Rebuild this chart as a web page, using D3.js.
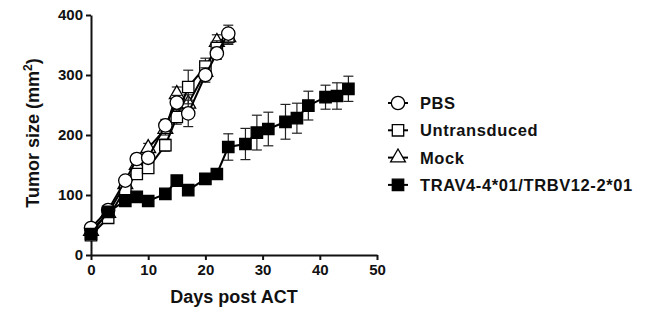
<!DOCTYPE html>
<html>
<head>
<meta charset="utf-8">
<script src="https://cdn.jsdelivr.net/npm/d3@7"></script>
<style>
  html, body { margin: 0; padding: 0; background: #fff; }
  svg { display: block; }
  text { font-family: "Liberation Sans", Arial, sans-serif; font-weight: bold; fill: #111; }
</style>
</head>
<body>
<svg id="chart" width="664" height="324"></svg>
<script>
// Tumor growth after adoptive cell transfer (mean ± SEM)
const controlDays = [0, 3, 6, 8, 10, 13, 15, 17, 20, 22, 24];
const pbsMean = [45, 75, 124, 160, 162, 216, 254, 236, 300, 336, 369];
const pbsErr  = [5, 5, 6, 8, 8, 10, 12, 22, 12, 10, 14];
const untransducedMean = [33, 62, 110, 135, 145, 183, 230, 280, 314, 345, 364];
const untransducedErr  = [4, 5, 6, 8, 8, 10, 12, 28, 14, 12, 12];
const mockMean = [40, 70, 118, 150, 178, 210, 268, 252, 305, 355, 363];
const mockErr  = [4, 5, 6, 8, 8, 10, 12, 15, 12, 12, 12];

const tcrDays = [0, 3, 6, 8, 10, 13, 15, 17, 20, 22, 24, 27, 29, 31, 34, 36, 38, 41, 43, 45];
const tcrMean = [35, 72, 90, 97, 90, 102, 124, 108, 127, 135, 180, 185, 204, 210, 222, 228, 249, 263, 265, 277];
const tcrErr  = [4, 5, 6, 6, 6, 7, 8, 7, 8, 8, 22, 26, 29, 28, 29, 25, 24, 20, 22, 21];

const xTicks = [0, 10, 20, 30, 40, 50];
const yTicks = [0, 100, 200, 300, 400];

const seriesNames = ["PBS", "Untransduced", "Mock", "TRAV4-4*01/TRBV12-2*01"];
const series = [
  { name: seriesNames[2], days: controlDays, mean: mockMean, err: mockErr, shape: "triangle", fill: "#fff" },
  { name: seriesNames[1], days: controlDays, mean: untransducedMean, err: untransducedErr, shape: "square", fill: "#fff" },
  { name: seriesNames[0], days: controlDays, mean: pbsMean, err: pbsErr, shape: "circle", fill: "#fff" },
  { name: seriesNames[3], days: tcrDays, mean: tcrMean, err: tcrErr, shape: "square", fill: "#000" }
];

const svg = d3.select("#chart");
const x = d3.scaleLinear().domain([0, 50]).range([91, 377]);
const y = d3.scaleLinear().domain([0, 400]).range([255, 15]);

// axes
const xAxis = d3.axisBottom(x).tickValues(xTicks).tickSize(5).tickSizeOuter(0).tickPadding(4);
const yAxis = d3.axisLeft(y).tickValues(yTicks).tickSize(5).tickSizeOuter(0).tickPadding(3);

const gx = svg.append("g").attr("transform", `translate(0,${y(0)})`).call(xAxis);
const gy = svg.append("g").attr("transform", `translate(${x(0)},0)`).call(yAxis);
[gx, gy].forEach(g => {
  g.select(".domain").attr("stroke", "#111").attr("stroke-width", 2);
  g.selectAll(".tick line").attr("stroke", "#111").attr("stroke-width", 2);
  g.selectAll(".tick text").style("font-size", "15px").style("font-family", "Liberation Sans, Arial, sans-serif")
    .style("font-weight", "bold").attr("fill", "#111");
});

svg.append("text")
  .attr("x", (x(0) + x(50)) / 2).attr("y", 303)
  .attr("text-anchor", "middle").style("font-size", "18px")
  .text("Days post ACT");

const yTitle = svg.append("text")
  .attr("transform", `translate(39,${(y(0) + y(400)) / 2 - 2}) rotate(-90)`)
  .attr("text-anchor", "middle").style("font-size", "18px");
yTitle.append("tspan").text("Tumor size (mm");
yTitle.append("tspan").attr("dy", -7).style("font-size", "12px").text("2");
yTitle.append("tspan").attr("dy", 7).text(")");

const symbolFor = shape => {
  if (shape === "circle") return d3.symbol(d3.symbolCircle, 140)();
  if (shape === "triangle") return d3.symbol(d3.symbolTriangle, 95)();
  return d3.symbol(d3.symbolSquare, 130)();
};

const line = d3.line();

series.forEach(s => {
  const g = svg.append("g");
  const pts = s.days.map((d, i) => [x(d), y(s.mean[i])]);
  // error bars
  s.days.forEach((d, i) => {
    const cx = x(d), top = y(s.mean[i] + s.err[i]), bot = y(s.mean[i] - s.err[i]);
    g.append("line").attr("x1", cx).attr("x2", cx).attr("y1", top).attr("y2", bot)
      .attr("stroke", "#222").attr("stroke-width", 1.2);
    [top, bot].forEach(yy => g.append("line").attr("x1", cx - 5).attr("x2", cx + 5)
      .attr("y1", yy).attr("y2", yy).attr("stroke", "#222").attr("stroke-width", 1.2));
  });
  g.append("path").attr("d", line(pts)).attr("fill", "none")
    .attr("stroke", "#000").attr("stroke-width", 2);
  g.selectAll("path.pt").data(pts).join("path").attr("class", "pt")
    .attr("transform", p => `translate(${p[0]},${p[1]})`)
    .attr("d", symbolFor(s.shape))
    .attr("fill", s.fill).attr("stroke", "#000").attr("stroke-width", 1.3);
});

// legend
const legendOrder = [
  { name: seriesNames[0], shape: "circle", fill: "#fff" },
  { name: seriesNames[1], shape: "square", fill: "#fff" },
  { name: seriesNames[2], shape: "triangle", fill: "#fff" },
  { name: seriesNames[3], shape: "square", fill: "#000" }
];
const lg = svg.append("g");
legendOrder.forEach((d, i) => {
  const cy = 103 + i * 27.3;
  lg.append("line").attr("x1", 388).attr("x2", 408).attr("y1", cy).attr("y2", cy)
    .attr("stroke", "#000").attr("stroke-width", 2);
  lg.append("path").attr("transform", `translate(398,${cy})`).attr("d", symbolFor(d.shape))
    .attr("fill", d.fill).attr("stroke", "#000").attr("stroke-width", 1.3);
  lg.append("text").attr("x", 420).attr("y", cy + 6).style("font-size", "16.5px")
    .style("letter-spacing", "0.6px").text(d.name);
});
</script>
</body>
</html>
